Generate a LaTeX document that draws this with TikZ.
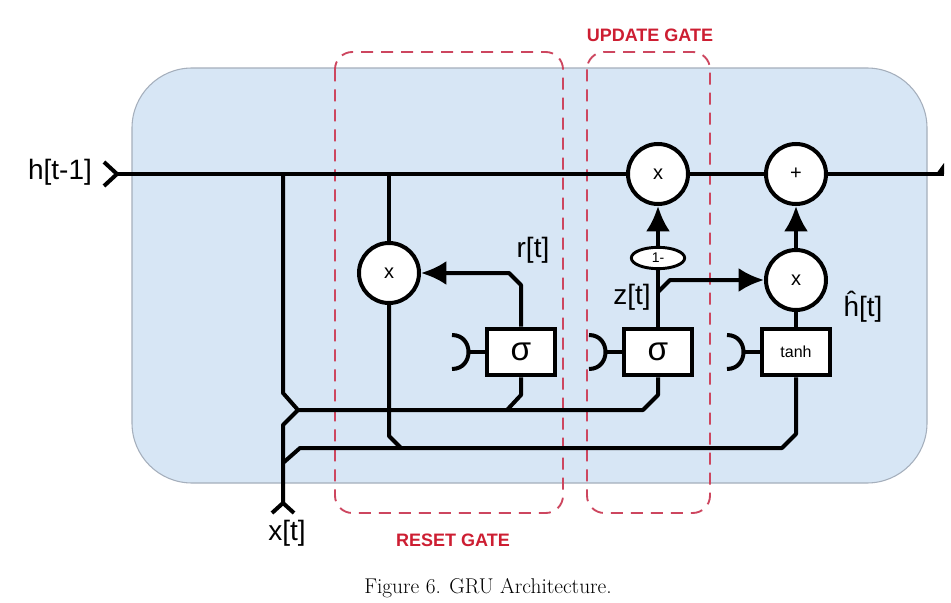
\documentclass[tikz,border=0pt]{standalone}
\usepackage{fontspec}
\newfontfamily\arialfont{Liberation Sans}
\usetikzlibrary{arrows.meta, shapes.geometric}

\definecolor{cellblue}{RGB}{215,230,245}
\definecolor{celledge}{RGB}{165,175,188}
\definecolor{gatered}{RGB}{205,70,95}
\definecolor{labelred}{RGB}{205,30,50}

\begin{document}
\begin{tikzpicture}[
  x=0.75pt, y=-0.75pt,
  wire/.style={line width=3pt, line join=round},
  flow/.style={wire, -{Latex[length=19pt, width=18pt]}},
  op/.style={circle, draw, line width=3pt, fill=white, minimum size=45pt, inner sep=0pt,
    font=\arialfont\fontsize{15}{15}\selectfont},
  gatebox/.style={rectangle, draw, line width=3pt, fill=white, minimum width=51pt,
    minimum height=35pt, inner sep=0pt},
  gatezone/.style={draw=gatered, line width=1.4pt, dash pattern=on 9pt off 6pt, rounded corners=13pt},
  lbl/.style={font=\arialfont\fontsize{21}{21}\selectfont},
  gatename/.style={text=labelred, font=\arialfont\bfseries\fontsize{13.5}{14}\selectfont}
]
\fill[white] (0,0) rectangle (951,603);
\useasboundingbox (0,0) rectangle (951,603);

% cell background
\filldraw[fill=cellblue, draw=celledge, line width=0.8pt, rounded corners=45pt] (132,68) rectangle (927,483);

% gate zones
\draw[gatezone] (335,52) rectangle (563,513);
\draw[gatezone] (587,52) rectangle (710,513);
\node[gatename] (resetname) at (453,540) {RESET GATE};
\node[gatename] (updatename) at (650,35) {UPDATE GATE};

% operations
\node[op] (rmul) at (389,273) {x};
\node[op] (zmul) at (658,174) {x};
\node[op] (hadd) at (796,174) {+};
\node[op] (cmul) at (796,280) {x};
\node[gatebox, font=\arialfont\fontsize{25}{25}\selectfont] (sr) at (521,352) {σ};
\node[gatebox, font=\arialfont\fontsize{25}{25}\selectfont] (sz) at (658,352) {σ};
\node[gatebox, font=\arialfont\fontsize{12}{12}\selectfont] (th) at (796,352) {tanh};
\node[ellipse, draw, line width=2.2pt, fill=white, minimum width=40pt, minimum height=16pt,
  inner sep=0pt, font=\arialfont\fontsize{10.5}{10.5}\selectfont] (onem) at (658,258) {1-};

% labels
\node[lbl] (hin) at (60,172) {h[t-1]};
\node[lbl] (xin) at (287,533) {x[t]};
\node[lbl] (rlbl) at (533,250) {r[t]};
\node[lbl] (zlbl) at (632,297) {z[t]};
\node[lbl] (hlbl) at (863,307) {\^{h}[t]};
\node[font=\fontsize{16}{17}\selectfont] (caption) at (488,588) {Figure 6. GRU Architecture.};

\coordinate (hstart) at (117,174);
\coordinate (hend) at (944,174);
\coordinate (xstart) at (283,503);
\coordinate (hsplit) at (283,174);
\coordinate (mergeA) at (298,410);
\coordinate (mergeB) at (300,448);

% inputs
\draw[wire] ([shift={(-13,-12)}]hstart) -- (hstart) -- ([shift={(-13,12)}]hstart);
\draw[wire] ([shift={(-11,10)}]xstart) -- (xstart) -- ([shift={(11,10)}]xstart);
\foreach \b in {sr,sz,th}{
  \draw[wire] (\b.west) -- ++(-16,0) coordinate (\b-in);
  \draw[wire] ([shift={(-17,-17)}]\b-in) .. controls +(22,0) and +(22,0) .. ([shift={(-17,17)}]\b-in);
}

% main state line
\draw[wire] (hstart) -- (zmul) -- (hadd) -- (hend);
\fill ([shift={(-8,0)}]hend) -- (hend) -- ([shift={(0,-11)}]hend) -- cycle;

% h[t-1] and x[t] to the gates
\draw[wire] (hsplit) -- (283,393) -- (mergeA) -- (643,410) -- (658,395) -- (sz.south);
\draw[wire] (xstart) -- (283,425) -- (mergeA);
\draw[wire] (283,463) -- (mergeB) -- (782,448) -- (796,434) -- (th.south);
\draw[wire] (sr.south) -- (521,395) -- (507,410);

% reset gate
\draw[wire] (389,174) -- (rmul);
\draw[wire] (rmul) -- (389,436) -- (401,448);
\draw[flow] (sr) -- (521,285) -- (509,273) -- (rmul);

% update gate
\draw[wire] (sz) -- (onem);
\draw[flow] (onem) -- (zmul);
\draw[flow] (658,292) -- (670,280) -- (cmul);
\draw[wire] (th) -- (cmul);
\draw[flow] (cmul) -- (hadd);
\end{tikzpicture}
\end{document}
